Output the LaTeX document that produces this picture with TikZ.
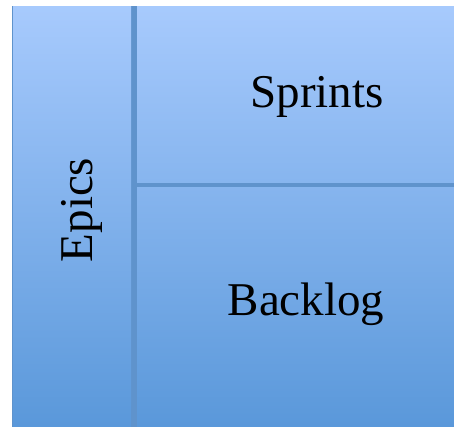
\documentclass[tikz,border=0pt]{standalone}
\usepackage{fontspec}
\setmainfont{Liberation Serif}
\definecolor{boxtop}{HTML}{A7CAFD}
\definecolor{boxbot}{HTML}{5A98DA}
\definecolor{boxline}{HTML}{5F93CC}
\tikzset{
	pane/.style={rectangle, inner sep=0, outer sep=0, anchor=north west},
	word/.style={inner sep=0, font=\fontsize{47}{50}\selectfont}
}
\begin{document}
\begin{tikzpicture}[x=1pt,y=-1pt]
		\useasboundingbox (0,0) rectangle (454,427);
		\fill[boxline] (12,6) rectangle (454,427);

		\node[pane, minimum width=118pt, minimum height=419pt, top color=boxtop, bottom color=boxbot] (epics) at (13,7) {};
		\node[pane, minimum width=318pt, minimum height=176pt, top color=boxtop, bottom color=boxtop!58!boxbot] (sprints) at (137,7) {};
		\node[pane, minimum width=318pt, minimum height=238pt, top color=boxtop!57!boxbot, bottom color=boxbot] (backlog) at (137,188) {};

		\node[word, anchor=base] (sprintstext) at (317,108) {Sprints};
		\node[word, anchor=base] (backlogtext) at (306,315) {Backlog};
		\node[word, anchor=base, rotate=90] (epicstext) at (92,210) {Epics};
	\end{tikzpicture}
\end{document}
